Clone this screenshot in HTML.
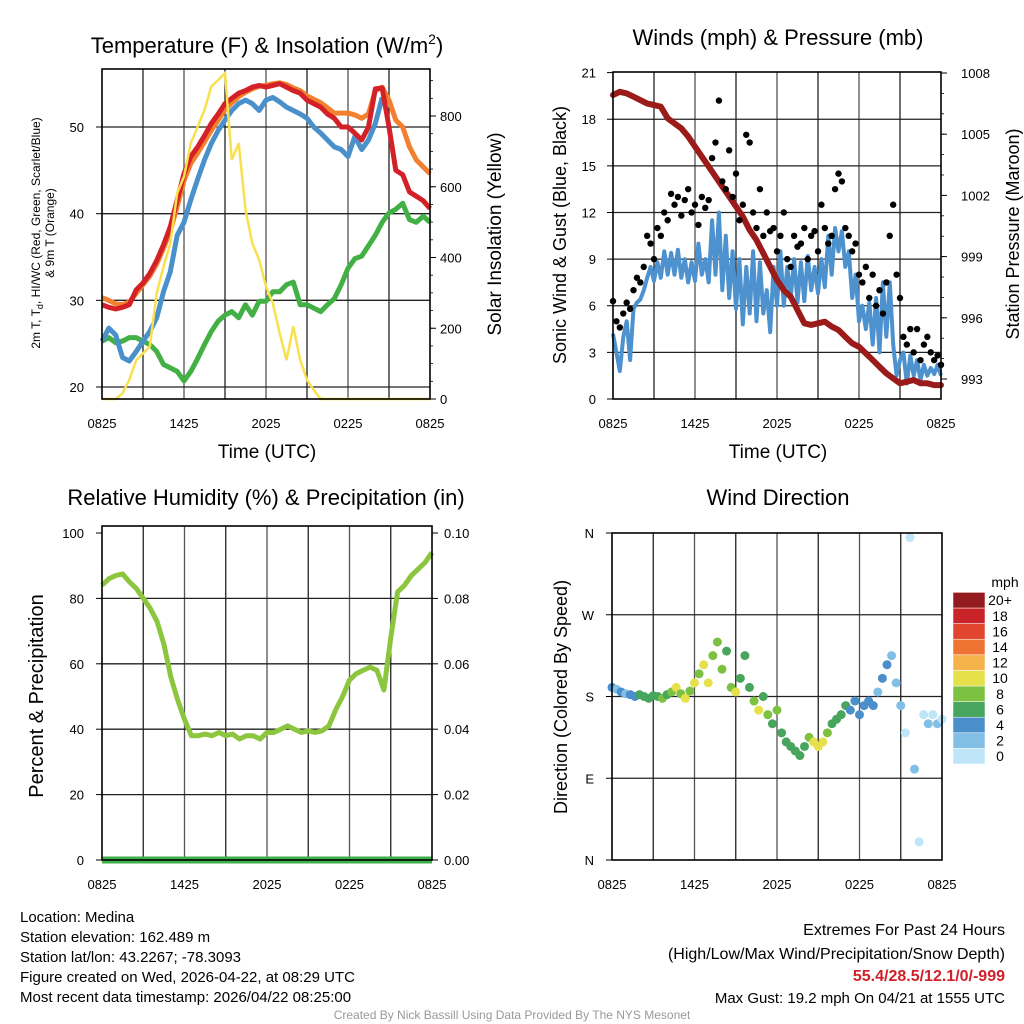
<!DOCTYPE html>
<html><head><meta charset="utf-8"><style>
html,body{margin:0;padding:0;background:#fff;}
svg{display:block;font-family:"Liberation Sans",sans-serif;}
</style></head><body>
<svg id="c" width="1024" height="1024" viewBox="0 0 1024 1024"></svg>
<script>
// ---------- data ----------
const hoursHalf = Array.from({length:49},(_, i)=>i*0.5);
const hoursQuarter = Array.from({length:97},(_, i)=>i*0.25);
const xTickLabels = ["0825","1425","2025","0225","0825"];
const tempRed = [29.5,29.2,29.0,29.2,29.5,31.2,32,33.1,34.6,36.4,38.5,41.6,44.6,46.6,47.7,49,50.4,51.5,52.7,53.3,53.9,54.2,54.6,54.8,54.6,54.8,55,54.6,54.2,53.9,53.1,52.7,52.3,51.5,51,50,50,49.3,48.5,50,54.4,54.5,50,45,44.5,42.5,42,41.5,40.6];
const tempOrange = [30.3,30,29.6,29.5,29.8,30.8,31.8,32.8,34.2,36,38,40.8,43.8,45.8,47,48.3,49.6,50.8,52,52.8,53.5,54,54.4,54.7,54.8,55,55.1,54.9,54.5,54.2,53.6,53.2,52.8,52.2,51.6,51.6,51.6,51.4,51,51.5,54.2,54.6,53.1,50.8,50,47.7,46.2,45.4,44.6];
const tempBlue = [25.3,26.8,26,23.4,23,24.1,25.3,26.4,28,31,33.3,37.5,39,41.6,44,46.2,48.1,49.6,50.8,51.9,52.7,53.1,52.7,51.9,53.1,53.4,52.9,52.3,51.9,51.5,51,50,49.3,48.5,47.7,47.4,46.6,48.9,47.4,48.5,50.4,53.4,null,null,null,null,null,null,null];
const tempGreen = [25.3,25.7,25.1,25.3,25.7,25.7,25.3,24.9,24.1,22.6,22.2,21.8,20.7,21.8,23.3,24.9,26.4,27.6,28.3,28.7,28,29.5,28.3,29.9,29.9,31,31,31.8,32.1,29.5,29.5,29.1,28.7,29.5,30.2,31.8,33.7,34.8,35.1,36.3,37.5,39,40.1,40.5,41.2,39.3,39,39.7,39];
const solar = [0,0,0,16,54,110,129,148,299,374,440,582,629,723,770,817,883,902,921,676,723,535,440,393,318,271,186,110,205,110,54,25,0,0,0,0,0,0,0,0,0,0,0,0,0,0,0,0,0];
const tempTicks = [20,30,40,50];
const solarTicks = [0,200,400,600,800];

const windSonic = [4.2,3.0,1.8,4.0,5.0, 2.5,5.8,6.2,6.4, 7.0,7.8,8.5,7.6, 8.8,7.8,9.5,8.0, 9.4,8.0,9.6,7.8, 9.0,7.5,8.8,7.6, 10.0,8.0,9.0,7.5, 11.5,8.0,12.0,7.0, 10.5,6.5,9.5,5.8, 9.0,4.8,8.5,5.5, 9.5,5.0,8.8,5.5, 7.0,4.3,8.5,6.0, 9.5,6.0,8.5,6.5, 9.0,6.2,8.8,6.3, 9.2,7.0,8.5,6.8, 9.0,7.2,10.5,8.0, 11.0,9.5,10.8,8.5, 9.5,6.5,8.0,5.0, 6.0,4.5,6.2,3.5, 6.5,3.0,7.5,4.0, 7.5,3.5,1.5,2.5, 3.0,1.0,2.8,1.5, 2.5,1.2,2.2,1.5, 2.0,1.6,2.2,1.5];
const windGust = [6.3,5.0,4.6,5.5,6.2, 5.8,7.0,7.8,7.5, 8.5,10.5,10.0,9.0, 11.0,10.5,12.0,11.5, 13.2,12.5,13.0,11.8, 12.8,13.5,12.0,12.5, 11.2,13.0,12.3,12.8, 15.5,16.5,19.2,14.0, 13.5,16.0,13.0,14.5, 11.5,12.5,17.0,16.5, 12.0,11.0,13.5,10.5, 12.0,10.8,11.0,9.5, 10.5,12.0,9.0,8.5, 10.5,9.8,10.0,11.0, 9.0,10.5,10.8,9.5, 12.5,11.0,10.0,10.5, 13.5,14.5,14.0,11.0, 10.5,9.5,10.0,8.0, 7.5,8.5,6.5,8.0, 6.0,7.0,5.5,7.5, 10.5,12.5,8.0,6.5, 4.0,3.5,4.5,3.0, 4.5,2.5,3.5,4.0, 3.0,2.5,2.8,2.2];
const hoursThird = Array.from({length:73},(_, i)=>i/3);
const pressure = [1006.92,1007.08,1007.0,1006.84,1006.67,1006.5,1006.43,1006.35,1005.78,1005.53,1005.29,1004.88,1004.39,1003.9,1003.41,1002.92,1002.43,1001.94,1001.45,1000.96,1000.3,999.81,999.16,998.5,997.85,997.36,997.03,996.38,995.73,995.65,995.73,995.81,995.57,995.4,995.07,994.75,994.58,994.26,993.93,993.6,993.28,993.03,992.79,992.87,992.95,992.79,992.79,992.7,992.7];
const windTicks = [0,3,6,9,12,15,18,21];
const presTicks = [993,996,999,1002,1005,1008];

const rh = [84,86,87,87.5,85,83,80,77,73,66,56,49,43,38,38,38.5,38,39,38,38.5,37,38,38,37,39,39,40,41,40,39,39.5,39,39.5,41,46,50,55,57,58,59,58,52,68,82,84,87,89,91,94];
const precip = [0,0,0,0,0,0,0,0,0,0,0,0,0,0,0,0,0,0,0,0,0,0,0,0,0,0,0,0,0,0,0,0,0,0,0,0,0,0,0,0,0,0,0,0,0,0,0,0,0];
const rhTicks = [0,20,40,60,80,100];
const precipTicks = ["0.00","0.02","0.04","0.06","0.08","0.10"];

const windDir = [190,188,185,183,182,180,182,180,178,181,180,178,182,185,190,183,178,186,195,205,215,195,225,240,210,230,190,185,200,225,190,175,165,180,160,150,165,140,130,125,120,115,125,135,130,125,130,140,150,155,160,170,165,175,160,170,175,170,185,200,215,225,195,170,140,355,100,20,160,150,160,150,155];
const windSpd = [4,3,4,3,4,5,6,7,7,6,7,8,7,8,10,9,10,8,11,9,10,10,8,8,9,7,8,10,6,7,7,8,10,7,8,7,8,7,7,6,7,6,7,8,10,11,10,9,7,6,6,6,5,4,5,4,4,4,3,4,4,3,2,2,1,1,2,1,1,2,1,2,1];
const dirTicks = ["N","E","S","W","N"];
const speedBins = ["0","2","4","6","8","10","12","14","16","18","20+"];
const binColors = ["#bfe6f8","#82bfe6","#4a8fcb","#48a55e","#7cc142","#e6e04a","#f6b24a","#ef7332","#e2452f","#c9242a","#931b1e"];

// ---------- helpers ----------
const NS="http://www.w3.org/2000/svg";
const svg=document.getElementById('c');
function mk(tag,attrs,parent){const e=document.createElementNS(NS,tag);for(const k in attrs)e.setAttribute(k,attrs[k]);(parent||svg).appendChild(e);return e;}
function txt(s,attrs,parent){const e=mk('text',attrs,parent);e.textContent=s;return e;}
function lin(d0,d1,r0,r1){return v=>r0+(v-d0)*(r1-r0)/(d1-d0);}
function pathFrom(xs,ys,xf,yf){let d='',pen=false;for(let i=0;i<xs.length;i++){if(ys[i]===null||ys[i]===undefined){pen=false;continue;}d+=(pen?'L':'M')+xf(xs[i]).toFixed(1)+','+yf(ys[i]).toFixed(1);pen=true;}return d;}

function panelFrame(L,R,T,B,name){
  const g=mk('g',{});
  
  
  const xf=lin(0,24,L,R);
  for(let h=3;h<24;h+=3){
    const gl=mk('line',{x1:xf(h),x2:xf(h),y1:T,y2:B,stroke:(h%6===0)?'#555':'#222','stroke-width':1.3},g);
    
    
  }
  xTickLabels.forEach((s,i)=>{
    const t=txt(s,{x:xf(i*6),y:B+29,'font-size':13,'text-anchor':'middle',fill:'#000'},g);
    
    
  });
  return {g,xf};
}
function box(L,R,T,B,g){mk('rect',{x:L,y:T,width:R-L,height:B-T,fill:'none',stroke:'#000','stroke-width':1.6},g);}

// ---------- Panel 1 ----------
(function(){
  const L=102,R=430,T=69,B=399;
  const {g,xf}=panelFrame(L,R,T,B,'temperature-panel');
  const yT=lin(20,50,387,127), yS=lin(0,800,399,116);
  tempTicks.forEach(v=>{
    mk('line',{x1:L,x2:R,y1:yT(v),y2:yT(v),stroke:'#222','stroke-width':1.3},g);
    const t=txt(v,{x:L-18,y:yT(v)+5,'font-size':13,'text-anchor':'end'},g);
    
    
    mk('line',{x1:L-6,x2:L,y1:yT(v),y2:yT(v),stroke:'#000'},g);
  });
  solarTicks.forEach(v=>{
    const t=txt(v,{x:R+10,y:yS(v)+5,'font-size':13},g);
    
    
    mk('line',{x1:R,x2:R+6,y1:yS(v),y2:yS(v),stroke:'#000'},g);
  });
  for(let v=0;v<=900;v+=50){mk('line',{x1:R,x2:R+3,y1:yS(v),y2:yS(v),stroke:'#000','stroke-width':0.8},g);}
  const series=[[tempGreen,'#43b045','dewpoint-line',5],[tempOrange,'#f3802e','temp-9m-line',5],[tempBlue,'#4a90cb','windchill-line',5],[tempRed,'#d42127','temp-2m-line',5]];
  series.forEach(([d,c,n,w])=>{
    const p=mk('path',{d:pathFrom(hoursHalf,d,xf,yT),fill:'none',stroke:c,'stroke-width':w,'stroke-linejoin':'round'},g);
    
    
  });
  const p=mk('path',{d:pathFrom(hoursHalf,solar,xf,yS),fill:'none',stroke:'#f8e04e','stroke-width':2.5},g);
  
  
  box(L,R,T,B,g);
  const t1=mk('text',{x:267,y:53,'font-size':22,'text-anchor':'middle'},g);
  t1.innerHTML='Temperature (F) &amp; Insolation (W/m<tspan dy="-9" font-size="14">2</tspan><tspan dy="9">)</tspan>';
  
  
  const yl=mk('text',{transform:'translate(40,233) rotate(-90)','font-size':12,'text-anchor':'middle'},g);
  yl.innerHTML='2m T, T<tspan dy="3" font-size="9">d</tspan><tspan dy="-3">, HI/WC (Red, Green, Scarlet/Blue)</tspan>';
  
  
  const yl2=txt('& 9m T (Orange)',{transform:'translate(54,233) rotate(-90)','font-size':12,'text-anchor':'middle'},g);
  
  
  const yr=txt('Solar Insolation (Yellow)',{transform:'translate(501,234) rotate(-90)','font-size':19,'text-anchor':'middle'},g);
  
  
  const xt=txt('Time (UTC)',{x:267,y:458,'font-size':19,'text-anchor':'middle'},g);
  
  
})();

// ---------- Panel 2 ----------
(function(){
  const L=613,R=941,T=72,B=399;
  const {g,xf}=panelFrame(L,R,T,B,'winds-panel');
  const yW=lin(0,21,399,72.6), yP=lin(993,1008,379,73);
  windTicks.forEach(v=>{
    if(v>0&&v<21) mk('line',{x1:L,x2:R,y1:yW(v),y2:yW(v),stroke:'#222','stroke-width':1.3},g);
    const t=txt(v,{x:L-17,y:yW(v)+5,'font-size':13,'text-anchor':'end'},g);
    
    
    mk('line',{x1:L-6,x2:L,y1:yW(v),y2:yW(v),stroke:'#000'},g);
  });
  presTicks.forEach(v=>{
    const t=txt(v,{x:R+20,y:yP(v)+5,'font-size':13},g);
    
    
    mk('line',{x1:R,x2:R+6,y1:yP(v),y2:yP(v),stroke:'#000'},g);
  });
  for(let v=993;v<=1008;v+=1){mk('line',{x1:R,x2:R+3,y1:yP(v),y2:yP(v),stroke:'#000','stroke-width':0.8},g);}
  const p=mk('path',{d:pathFrom(hoursQuarter,windSonic,xf,yW),fill:'none',stroke:'#4d92cf','stroke-width':4,'stroke-linejoin':'round'},g);
  
  
  const pp=mk('path',{d:pathFrom(hoursHalf,pressure,xf,yP),fill:'none',stroke:'#9b1b1b','stroke-width':6,'stroke-linejoin':'round','stroke-linecap':'round'},g);
  
  
  windGust.forEach((v,i)=>{
    const c=mk('circle',{cx:xf(hoursQuarter[i]),cy:yW(v),r:3.2,fill:'#000'},g);
    
    
  });
  box(L,R,T,B,g);
  const t1=txt('Winds (mph) & Pressure (mb)',{x:778,y:45,'font-size':22,'text-anchor':'middle'},g);
  
  
  const yl=txt('Sonic Wind & Gust (Blue, Black)',{transform:'translate(566,235) rotate(-90)','font-size':18,'text-anchor':'middle'},g);
  
  
  const yr=txt('Station Pressure (Maroon)',{transform:'translate(1019,234) rotate(-90)','font-size':18,'text-anchor':'middle'},g);
  
  
  const xt=txt('Time (UTC)',{x:778,y:458,'font-size':19,'text-anchor':'middle'},g);
  
  
})();

// ---------- Panel 3 ----------
(function(){
  const L=102,R=432,T=526,B=860;
  const {g,xf}=panelFrame(L,R,T,B,'humidity-panel');
  const yR=lin(0,100,860,533);
  rhTicks.forEach((v,i)=>{
    if(v>0&&v<100) mk('line',{x1:L,x2:R,y1:yR(v),y2:yR(v),stroke:'#222','stroke-width':1.3},g);
    const t=txt(v,{x:L-18,y:yR(v)+5,'font-size':13,'text-anchor':'end'},g);
    
    
    mk('line',{x1:L-6,x2:L,y1:yR(v),y2:yR(v),stroke:'#000'},g);
    const t2=txt(precipTicks[i],{x:R+12,y:yR(v)+5,'font-size':13},g);
    
    
    mk('line',{x1:R,x2:R+6,y1:yR(v),y2:yR(v),stroke:'#000'},g);
  });
  const p=mk('path',{d:pathFrom(hoursHalf,rh,xf,yR),fill:'none',stroke:'#8cc63f','stroke-width':5,'stroke-linejoin':'round'},g);
  
  
  const yPr=lin(0,0.1,860,533);
  const pr=mk('path',{d:pathFrom(hoursHalf,precip,xf,yPr),fill:'none',stroke:'#3fae49','stroke-width':7},g);
  
  
  box(L,R,T,B,g);
  const t1=txt('Relative Humidity (%) & Precipitation (in)',{x:266,y:505,'font-size':22,'text-anchor':'middle'},g);
  
  
  const yl=txt('Percent & Precipitation',{transform:'translate(43,696) rotate(-90)','font-size':20,'text-anchor':'middle'},g);
  
  
})();

// ---------- Panel 4 ----------
(function(){
  const L=612,R=942,T=533,B=860;
  const {g,xf}=panelFrame(L,R,T,B,'wind-direction-panel');
  const yD=lin(0,360,860,533);
  dirTicks.forEach((s,i)=>{
    const v=i*90;
    if(i>0&&i<4) mk('line',{x1:L,x2:R,y1:yD(v),y2:yD(v),stroke:'#222','stroke-width':1.3},g);
    const t=txt(s,{x:L-18,y:yD(v)+5,'font-size':13,'text-anchor':'end'},g);
    
    
    mk('line',{x1:L-6,x2:L,y1:yD(v),y2:yD(v),stroke:'#000'},g);
  });
  windDir.forEach((d,i)=>{
    const bin=Math.min(10,Math.floor(windSpd[i]/2));
    const c=mk('circle',{cx:xf(hoursThird[i]),cy:yD(d),r:4.5,fill:binColors[bin]},g);
    
    
  });
  box(L,R,T,B,g);
  const t1=txt('Wind Direction',{x:778,y:505,'font-size':22,'text-anchor':'middle'},g);
  
  
  const yl=txt('Direction (Colored By Speed)',{transform:'translate(567,697) rotate(-90)','font-size':18,'text-anchor':'middle'},g);
  
  
  const lg=mk('g',{},g);
  
  
  const h=15.6;
  speedBins.forEach((s,i)=>{
    const y=764-(i+1)*h;
    mk('rect',{x:953,y:y,width:32,height:h,fill:binColors[i],stroke:'#fff','stroke-width':0.5},lg);
    const t=txt(s,{x:1000,y:y+h/2+5,'font-size':14,'text-anchor':'middle'},lg);
    
    
  });
  const u=txt('mph',{x:1005,y:587,'font-size':14,'text-anchor':'middle'},lg);
  
  
})();

// ---------- footer ----------
(function(){
  const g=mk('g',{'font-size':15});
  
  
  ["Location: Medina","Station elevation: 162.489 m","Station lat/lon: 43.2267; -78.3093","Figure created on Wed, 2026-04-22, at 08:29 UTC","Most recent data timestamp: 2026/04/22 08:25:00"].forEach((s,i)=>{txt(s,{x:20,y:922+i*20},g);});
  const g2=mk('g',{'font-size':16,'text-anchor':'end'});
  
  
  txt('Extremes For Past 24 Hours',{x:1005,y:935},g2);
  txt('(High/Low/Max Wind/Precipitation/Snow Depth)',{x:1005,y:959},g2);
  txt('55.4/28.5/12.1/0/-999',{x:1005,y:981,fill:'#d0202a','font-weight':'bold'},g2);
  txt('Max Gust: 19.2 mph On 04/21 at 1555 UTC',{x:1005,y:1003,'font-size':15},g2);
  const f=txt('Created By Nick Bassill Using Data Provided By The NYS Mesonet',{x:512,y:1019,'font-size':12,'text-anchor':'middle',fill:'#999'});
  
  
})();
</script>
</body></html>
